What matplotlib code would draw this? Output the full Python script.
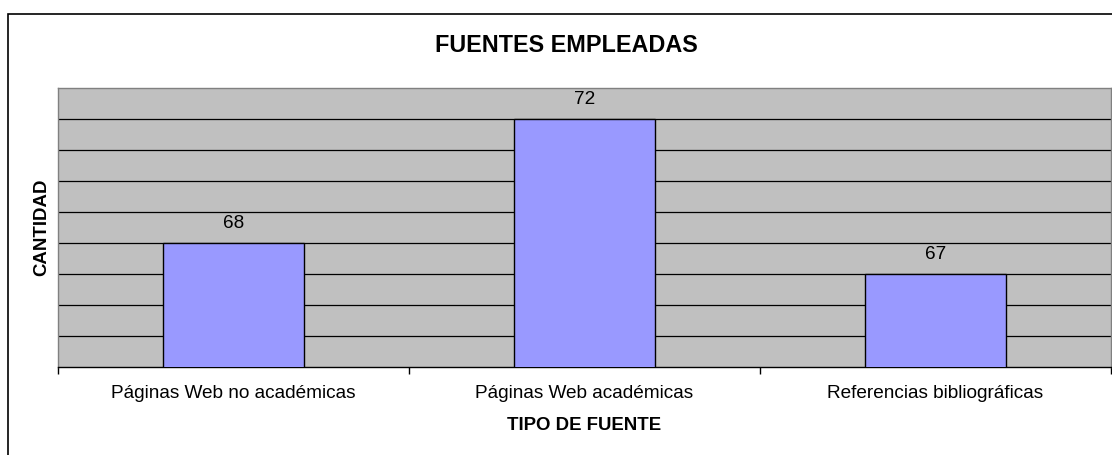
import matplotlib
matplotlib.use("Agg")
import matplotlib.pyplot as plt
from matplotlib.patches import Rectangle

categories = ["Páginas Web no académicas", "Páginas Web académicas", "Referencias bibliográficas"]
values = [68, 72, 67]
title = "FUENTES EMPLEADAS"
xlabel = "TIPO DE FUENTE"
ylabel = "CANTIDAD"

plt.rcParams['font.family'] = ['Liberation Sans', 'DejaVu Sans']

W, H = 1112, 455
fig = plt.figure(figsize=(W / 100, H / 100), dpi=100)
fig.patch.set_facecolor('white')

# outer chart border (left and top visible)
fig.patches.append(Rectangle((8 / W, -0.1), 1.2, 1 - 14 / H + 0.1, transform=fig.transFigure,
                             fill=False, edgecolor='black', linewidth=1.2, zorder=0))

left, right, top, bottom = 58, 1111, 88, 367
ax = fig.add_axes([left / W, 1 - bottom / H, (right - left) / W, (bottom - top) / H])
ax.set_facecolor('#C0C0C0')

x = list(range(len(categories)))
bars = ax.bar(x, values, width=0.4, color='#9999FF', edgecolor='black', linewidth=1.0, zorder=3)

ax.set_ylim(64, 73)
ax.set_xlim(-0.5, len(categories) - 0.5)
ax.set_yticks(range(65, 73))
ax.yaxis.grid(True, color='black', linewidth=0.9, zorder=1)
ax.set_axisbelow(True)
ax.tick_params(axis='y', left=False, labelleft=False)

ax.set_xticks(x)
ax.set_xticklabels(categories, fontsize=13.7)
ax.tick_params(axis='x', which='major', length=0, pad=13)
ax.set_xticks([i - 0.5 for i in range(len(categories) + 1)], minor=True)
ax.tick_params(axis='x', which='minor', length=5, width=1, color='black', direction='out')

for s in ['left', 'right', 'top']:
    ax.spines[s].set_color('#808080')
    ax.spines[s].set_linewidth(1.0)
ax.spines['bottom'].set_color('black')
ax.spines['bottom'].set_linewidth(1.0)

for xi, v in zip(x, values):
    ax.annotate(str(v), (xi, v), xytext=(0, 14), textcoords='offset points',
                ha='center', va='center', fontsize=13.7, color='black')

ax.set_xlabel(xlabel, fontsize=13.4, fontweight='bold', va='center')
ax.xaxis.set_label_coords(0.5, (bottom - 426) / (bottom - top))
ax.set_ylabel(ylabel, fontsize=13.4, fontweight='bold', va='center', ha='center')
ax.yaxis.set_label_coords((42 - left) / (right - left), 0.5 + (((top + bottom) / 2) - 227) / (bottom - top))

fig.text(566 / W, 1 - 45 / H, title, ha='center', va='center', fontsize=16.8, fontweight='bold')

fig.savefig("out.png", dpi=100)
